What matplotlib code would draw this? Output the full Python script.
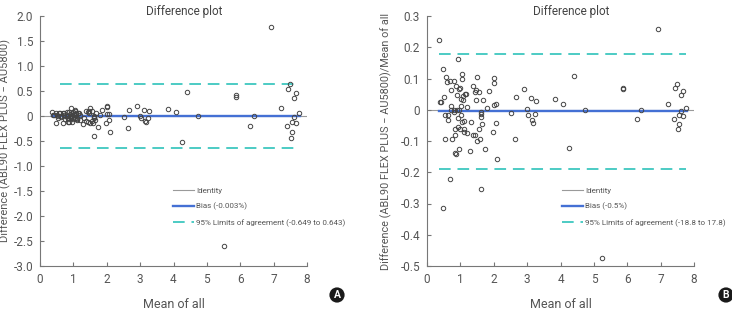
import matplotlib
matplotlib.use("Agg")
import matplotlib.pyplot as plt
import numpy as np

plt.rcParams['font.family'] = ['Roboto', 'DejaVu Sans']

# Mean of both methods (x) for panel A and panel B
mean_a = [0.35, 0.41, 0.39, 0.49, 0.51, 0.53, 0.54, 0.49, 0.58, 0.59, 0.62, 0.64, 0.69, 0.70,
          0.72, 0.72, 0.73, 0.75, 0.80, 0.81, 0.82, 0.83, 0.84, 0.85, 0.87, 0.87, 0.89, 0.90,
          0.92, 0.92, 0.94, 0.95, 0.96, 0.97, 0.98, 1.00, 1.01, 1.02, 1.02, 1.04, 1.06, 1.06,
          1.07, 1.09, 1.10, 1.11, 1.12, 1.15, 1.17, 1.19, 1.20, 1.30, 1.33, 1.37, 1.39, 1.43,
          1.45, 1.47, 1.48, 1.50, 1.50, 1.55, 1.57, 1.59, 1.62, 1.62, 1.62, 1.62, 1.65, 1.69,
          1.73, 1.80, 1.87, 1.99, 2.00, 2.02, 2.02, 2.07, 2.07, 2.09, 2.52, 2.63, 2.66, 2.90,
          3.00, 3.04, 3.13, 3.16, 3.17, 3.23, 3.27, 3.84, 4.06, 4.26, 4.39, 4.73, 5.52, 5.86,
          5.88, 6.30, 6.40, 6.92, 7.23, 7.40, 7.43, 7.50, 7.51, 7.56, 7.54, 7.60, 7.61, 7.67,
          7.67, 7.77]
mean_b = mean_a[:96] + [5.25] + mean_a[97:]

# Panel A: absolute difference (ABL90 FLEX PLUS - AU5800)
diff_a = [0.08, 0.01, 0.01, 0.06, 0.02, -0.01, -0.05, -0.15, 0.06, 0.05, -0.02, -0.01, -0.15, 0.06,
          0.05, 0.01, 0.00, -0.07, 0.07, 0.00, -0.01, -0.05, -0.07, -0.12, -0.12, 0.07, 0.04, 0.00,
          -0.02, -0.05, 0.15, 0.06, 0.00, -0.12, -0.06, 0.07, 0.03, 0.01, -0.02, 0.12, 0.10, -0.04,
          0.05, 0.03, -0.07, -0.04, -0.08, 0.06, 0.06, 0.01, -0.09, -0.17, -0.05, 0.10, -0.11, -0.12,
          0.08, 0.09, 0.05, -0.15, 0.16, 0.09, -0.10, -0.15, -0.01, -0.02, -0.04, -0.41, -0.08, 0.05,
          -0.22, 0.01, 0.11, -0.14, 0.20, 0.18, 0.03, 0.04, -0.09, -0.33, -0.02, -0.25, 0.11, 0.20,
          0.00, -0.05, 0.12, -0.10, -0.13, -0.04, 0.09, 0.13, 0.07, -0.52, 0.47, 0.00, -2.61, 0.42,
          0.38, -0.20, -0.01, 1.78, 0.15, -0.21, 0.53, 0.63, -0.45, -0.33, -0.13, -0.03, 0.36, 0.45,
          -0.15, 0.05]

# Panel B: difference divided by mean of all
rel_b = [0.223, 0.026, 0.026, 0.129, 0.042, -0.017, -0.095, -0.315, 0.106, 0.090, -0.033, -0.017,
         -0.223, 0.092, 0.063, 0.012, 0.000, -0.095, 0.093, 0.000, -0.008, -0.060, -0.082, -0.138,
         -0.140, 0.076, 0.047, 0.000, -0.025, -0.054, 0.164, 0.068, 0.000, -0.124, -0.063, 0.071,
         0.033, 0.012, -0.017, 0.116, 0.097, -0.038, 0.045, 0.031, -0.063, -0.035, -0.070, 0.050,
         0.052, 0.010, -0.074, -0.131, -0.038, 0.076, -0.081, -0.081, 0.058, 0.063, 0.031, -0.099,
         0.106, 0.058, -0.063, -0.093, -0.006, -0.012, -0.022, -0.255, -0.046, 0.031, -0.127, 0.007,
         0.061, -0.070, 0.101, 0.087, 0.015, 0.018, -0.042, -0.159, -0.009, -0.094, 0.042, 0.068,
         0.001, -0.017, 0.039, -0.033, -0.042, -0.012, 0.028, 0.033, 0.018, -0.122, 0.108, -0.001,
         -0.475, 0.071, 0.065, -0.031, -0.001, 0.257, 0.020, -0.028, 0.071, 0.084, -0.060, -0.044,
         -0.017, -0.004, 0.047, 0.059, -0.019, 0.007]

bias_a, loa_a = -0.003, (-0.649, 0.643)
bias_b, loa_b = -0.005, (-0.188, 0.178)

text_c = '#555555'
cyan = '#4ccbc4'
blue = '#4470d4'

fig = plt.figure(figsize=(7.32, 3.12), dpi=100)
ax_a = fig.add_axes([40/732, 46/312, 267/732, 250/312])
ax_b = fig.add_axes([427/732, 46/312, 267/732, 250/312])


def panel(ax, x, y, bias, loa, ylim, yticks, yticklabels, bias_lab, loa_lab, dash_x0, leg_x):
    ax.plot([0.05, 8.0], [0, 0], color='#9a9a9a', lw=0.8, label='Identity', zorder=1)
    ax.plot([0.35, 7.8], [bias, bias], color=blue, lw=1.7, label=bias_lab, zorder=2)
    ax.plot([dash_x0, 7.75], [loa[1], loa[1]], color=cyan, lw=1.4, dashes=(6, 3.5),
            label=loa_lab, zorder=2)
    ax.plot([dash_x0, 7.75], [loa[0], loa[0]], color=cyan, lw=1.4, dashes=(6, 3.5), zorder=2)
    ax.plot(x, y, 'o', ms=3.2, mfc='none', mec='#444444', mew=0.7, zorder=3)
    ax.set_xlim(0, 8)
    ax.set_ylim(*ylim)
    ax.set_xticks(range(9))
    ax.set_yticks(yticks)
    ax.set_yticklabels(yticklabels)
    for s in ['top', 'right']:
        ax.spines[s].set_visible(False)
    for s in ['left', 'bottom']:
        ax.spines[s].set_color('#777777')
        ax.spines[s].set_linewidth(0.8)
    ax.tick_params(direction='in', length=3, width=0.8, color='#777777',
                   labelsize=8.5, labelcolor=text_c, pad=5)
    ax.set_xlabel('Mean of all', fontsize=9, color=text_c, labelpad=9)
    ax.text(0.54, 1.02, 'Difference plot', transform=ax.transAxes, ha='center', va='center',
            fontsize=8.5, color='#444444')
    leg = ax.legend(loc='upper left', bbox_to_anchor=(leg_x, 0.315), frameon=False, fontsize=5.8,
                    handlelength=2.6, handletextpad=0.3, labelspacing=1.1,
                    borderpad=0, borderaxespad=0)
    for t in leg.get_texts():
        t.set_color(text_c)


panel(ax_a, mean_a, diff_a, bias_a, loa_a, (-3.0, 2.0),
      [2.0, 1.5, 1.0, 0.5, 0, -0.5, -1.0, -1.5, -2.0, -2.5, -3.0],
      ['2.0', '1.5', '1.0', '0.5', '0', '-0.5', '-1.0', '-1.5', '-2.0', '-2.5', '-3.0'],
      'Bias (-0.003%)', '95% Limits of agreement (-0.649 to 0.643)', 0.6, 0.498)
panel(ax_b, mean_b, rel_b, bias_b, loa_b, (-0.5, 0.3),
      [0.3, 0.2, 0.1, 0, -0.1, -0.2, -0.3, -0.4, -0.5],
      ['0.3', '0.2', '0.1', '0', '-0.1', '-0.2', '-0.3', '-0.4', '-0.5'],
      'Bias (-0.5%)', '95% Limits of agreement (-18.8 to 17.8)', 0.35, 0.506)

fig.text(5/732, 1 - 141/312, 'Difference (ABL90 FLEX PLUS \u2212 AU5800)', rotation=90,
         ha='center', va='center', fontsize=8, color=text_c)
ax_b.set_ylabel('Difference (ABL90 FLEX PLUS \u2212 AU5800)/Mean of all', fontsize=7.8,
                color=text_c, labelpad=6)

for lab, xp in [('A', 337), ('B', 726)]:
    fig.text(xp/732, 1 - 295/312, lab, ha='center', va='center', fontsize=7.5,
             fontweight='bold', color='white',
             bbox=dict(boxstyle='circle,pad=0.25', fc='#1a1a1a', ec='none'))

fig.savefig('out.png', dpi=100)
